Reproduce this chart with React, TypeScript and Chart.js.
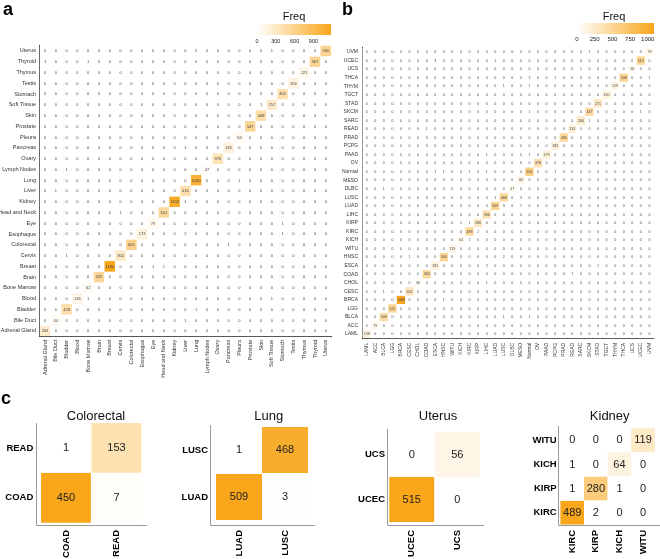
import React, { useEffect, useRef } from "react";
import { Chart, registerables } from "chart.js";
Chart.register(...registerables);

const FONT = '"Liberation Sans", Arial, Helvetica, sans-serif';
const ORANGE = [249, 166, 26];

// ---------- panel a : tissue of origin ----------
const tissueLabels = ["Adrenal Gland", "Bile Duct", "Bladder", "Blood", "Bone Marrow", "Brain", "Breast", "Cervix", "Colorectal", "Esophagus", "Eye", "Head and Neck", "Kidney", "Liver", "Lung", "Lymph Nodes", "Ovary", "Pancreas", "Pleura", "Prostate", "Skin", "Soft Tissue", "Stomach", "Testis", "Thymus", "Thyroid", "Uterus"];
const tissueCorrect = [264, 44, 428, 136, 62, 525, 1180, 302, 605, 173, 79, 501, 1102, 416, 1040, 47, 376, 182, 84, 547, 448, 257, 405, 156, 121, 567, 560];
// [true row, predicted column, count]
const tissueErrors = [[1, 13, 1], [2, 14, 1], [3, 4, 1], [3, 21, 1], [6, 10, 1], [6, 11, 1], [7, 2, 1], [8, 17, 1], [9, 13, 2], [9, 22, 1], [10, 22, 1], [11, 7, 1], [12, 13, 1], [13, 1, 1], [14, 11, 2], [14, 18, 1], [15, 2, 1], [17, 13, 1], [20, 26, 1], [21, 20, 1], [25, 0, 1], [25, 4, 1], [26, 14, 2], [26, 21, 1]];
const tissueLegendTicks = [0, 300, 600, 900];

// ---------- panel b : cancer type ----------
const cancerLabels = ["LAML", "ACC", "BLCA", "LGG", "BRCA", "CESC", "CHOL", "COAD", "ESCA", "HNSC", "WITU", "KICH", "KIRC", "KIRP", "LIHC", "LUAD", "LUSC", "DLBC", "MESO", "Normal", "OV", "PAAD", "PCPG", "PRAD", "READ", "SARC", "SKCM", "STAD", "TGCT", "THYM", "THCA", "UCS", "UCEC", "UVM"];
const cancerCorrect = [138, 79, 408, 525, 1088, 302, 36, 450, 181, 500, 119, 64, 489, 280, 366, 509, 468, 47, 84, 601, 376, 179, 182, 496, 153, 260, 447, 271, 150, 119, 508, 56, 515, 79];
const cancerErrors = [[2, 16, 1], [2, 19, 1], [4, 9, 1], [5, 2, 1], [6, 14, 1], [7, 24, 7], [8, 14, 2], [8, 27, 1], [9, 5, 1], [9, 16, 2], [11, 12, 1], [12, 13, 2], [13, 11, 1], [13, 12, 1], [15, 16, 3], [15, 18, 1], [16, 15, 1], [16, 18, 3], [17, 2, 1], [19, 8, 1], [19, 9, 1], [19, 12, 1], [19, 14, 1], [19, 22, 1], [21, 14, 1], [21, 19, 1], [24, 7, 1], [25, 26, 1], [26, 19, 1], [26, 32, 1], [29, 16, 1], [29, 19, 1], [30, 19, 2], [30, 22, 1], [30, 33, 1], [31, 25, 1], [32, 8, 3], [32, 15, 1], [33, 26, 1]];
const cancerLegendTicks = [0, 250, 500, 750, 1000];

// ---------- panel c : sub-type matrices (rows = true, cols = predicted) ----------
const colorectalLabels = ["COAD", "READ"];
const colorectalCounts = [[450, 7], [1, 153]];
const lungLabels = ["LUAD", "LUSC"];
const lungCounts = [[509, 3], [1, 468]];
const uterusLabels = ["UCEC", "UCS"];
const uterusCounts = [[515, 0], [0, 56]];
const kidneyLabels = ["KIRC", "KIRP", "KICH", "WITU"];
const kidneyCounts = [[489, 2, 0, 0], [1, 280, 1, 0], [1, 0, 64, 0], [0, 0, 0, 119]];

function buildMatrix(correct: number[], errors: number[][]) {
  const m = correct.map(() => correct.map(() => 0));
  correct.forEach((v, i) => (m[i][i] = v));
  errors.forEach(([r, c, v]) => (m[r][c] = v));
  return m;
}

function shade(v: number, max: number) {
  const t = Math.max(0, Math.min(1, v / max));
  const r = Math.round(255 + (ORANGE[0] - 255) * t);
  const g = Math.round(255 + (ORANGE[1] - 255) * t);
  const b = Math.round(255 + (ORANGE[2] - 255) * t);
  return `rgb(${r},${g},${b})`;
}

function panelLetter(ctx: CanvasRenderingContext2D, s: string, x: number, y: number) {
  ctx.font = `bold 18px ${FONT}`;
  ctx.fillStyle = "#000";
  ctx.textAlign = "left";
  ctx.textBaseline = "alphabetic";
  ctx.fillText(s, x, y);
}

function colorbar(ctx: CanvasRenderingContext2D, x0: number, x1: number, y0: number, y1: number, max: number, ticks: number[], titleX: number, labelY: number, labelSize: number) {
  ctx.font = `11px ${FONT}`;
  ctx.fillStyle = "#111";
  ctx.textAlign = "center";
  ctx.textBaseline = "alphabetic";
  ctx.fillText("Freq", titleX, 20);
  const g = ctx.createLinearGradient(x0, 0, x1, 0);
  g.addColorStop(0, "#ffffff");
  g.addColorStop(1, `rgb(${ORANGE.join(",")})`);
  ctx.fillStyle = g;
  ctx.fillRect(x0, y0, x1 - x0, y1 - y0);
  ctx.font = `${labelSize}px ${FONT}`;
  ctx.fillStyle = "#222";
  ctx.textBaseline = "middle";
  ticks.forEach((t) => ctx.fillText(String(t), x0 + (t / max) * (x1 - x0), labelY));
}

function smallDecor(ctx: CanvasRenderingContext2D, title: string, tx: number, ax: number, atop: number, xend: number) {
  ctx.font = `13px ${FONT}`;
  ctx.fillStyle = "#111";
  ctx.textAlign = "center";
  ctx.textBaseline = "alphabetic";
  ctx.fillText(title, tx, 420);
  ctx.strokeStyle = "#9a9a9a";
  ctx.lineWidth = 1;
  ctx.beginPath();
  ctx.moveTo(ax + 0.5, atop);
  ctx.lineTo(ax + 0.5, 525.5);
  ctx.lineTo(xend, 525.5);
  ctx.stroke();
}

type Panel = {
  left: number; top: number; w: number; h: number;
  area: number[];
  xLabels: string[]; yLabels: string[]; matrix: number[][];
  tickFont: number; tickBold: boolean; tickColor: string;
  numFont: number; numColor: string;
  xPad: number; yPad: number; border: boolean; fill: number;
  decorate: (ctx: CanvasRenderingContext2D) => void;
};

const tissueMatrix = buildMatrix(tissueCorrect, tissueErrors);
const cancerMatrix = buildMatrix(cancerCorrect, cancerErrors);
const tissueMax = Math.max(...tissueCorrect);
const cancerMax = Math.max(...cancerCorrect);

const panels: Panel[] = [
  {
    left: 0, top: 0, w: 336, h: 390, area: [39.6, 45.6, 331.7, 336.3],
    xLabels: tissueLabels, yLabels: tissueLabels, matrix: tissueMatrix,
    tickFont: 5.5, tickBold: false, tickColor: "#333", numFont: 4, numColor: "#444",
    xPad: 3.5, yPad: 3.6, border: true, fill: 0.98,
    decorate: (ctx) => {
      panelLetter(ctx, "a", 3, 15);
      colorbar(ctx, 257, 331, 24, 35, tissueMax, tissueLegendTicks, 294, 41.7, 5.5);
    },
  },
  {
    left: 336, top: 0, w: 324, h: 390, area: [362.4, 47.7, 655.9, 338.3],
    xLabels: cancerLabels, yLabels: cancerLabels, matrix: cancerMatrix,
    tickFont: 5, tickBold: false, tickColor: "#333", numFont: 3.6, numColor: "#444",
    xPad: 4.5, yPad: 4.4, border: true, fill: 0.98,
    decorate: (ctx) => {
      panelLetter(ctx, "b", 342, 15);
      colorbar(ctx, 577, 654, 23, 34, cancerMax, cancerLegendTicks, 614, 39.5, 6);
    },
  },
  {
    left: 0, top: 390, w: 165, h: 169, area: [40.7, 423, 141.7, 522.7],
    xLabels: colorectalLabels, yLabels: colorectalLabels, matrix: colorectalCounts,
    tickFont: 9.5, tickBold: true, tickColor: "#000", numFont: 11, numColor: "#222",
    xPad: 7.3, yPad: 7.4, border: false, fill: 1,
    decorate: (ctx) => {
      panelLetter(ctx, "c", 1, 404);
      smallDecor(ctx, "Colorectal", 96, 36, 423, 147);
    },
  },
  {
    left: 165, top: 390, w: 165, h: 169, area: [216, 426.5, 308, 520.5],
    xLabels: lungLabels, yLabels: lungLabels, matrix: lungCounts,
    tickFont: 9.5, tickBold: true, tickColor: "#000", numFont: 11, numColor: "#222",
    xPad: 9.5, yPad: 8, border: false, fill: 1,
    decorate: (ctx) => smallDecor(ctx, "Lung", 268.8, 210, 425, 315),
  },
  {
    left: 330, top: 390, w: 165, h: 169, area: [389, 432, 480, 522],
    xLabels: uterusLabels, yLabels: uterusLabels, matrix: uterusCounts,
    tickFont: 9.5, tickBold: true, tickColor: "#000", numFont: 11, numColor: "#222",
    xPad: 8, yPad: 4, border: false, fill: 1,
    decorate: (ctx) => smallDecor(ctx, "Uterus", 438, 387, 429, 484),
  },
  {
    left: 495, top: 390, w: 165, h: 169, area: [560.4, 428, 657.2, 524.8],
    xLabels: kidneyLabels, yLabels: kidneyLabels, matrix: kidneyCounts,
    tickFont: 9.5, tickBold: true, tickColor: "#000", numFont: 11, numColor: "#222",
    xPad: 5.2, yPad: 3.7, border: false, fill: 1,
    decorate: (ctx) => smallDecor(ctx, "Kidney", 609.7, 558, 426, 660),
  },
];

function Heat({ p }: { p: Panel }) {
  const ref = useRef<HTMLCanvasElement>(null);
  useEffect(() => {
    if (!ref.current) return;
    const [gl, gt, gr, gb] = p.area;
    const l = gl - p.left, t = gt - p.top, r = gr - p.left, b = gb - p.top;
    const max = Math.max(...p.matrix.map((row) => Math.max(...row)));
    const cells: any[] = [];
    p.matrix.forEach((row, ri) => row.forEach((v, ci) => cells.push({ x: p.xLabels[ci], y: p.yLabels[ri], v })));
    const nx = p.xLabels.length, ny = p.yLabels.length;
    const radius = (c: any) => {
      const a = c.chart.chartArea;
      if (!a) return 0;
      return (Math.min((a.right - a.left) / nx, (a.bottom - a.top) / ny) * p.fill) / Math.SQRT2;
    };
    const tickFont = { family: FONT, size: p.tickFont, weight: p.tickBold ? "bold" : "normal" };
    const chart = new Chart(ref.current, {
      type: "scatter",
      data: {
        datasets: [{
          data: cells,
          pointStyle: "rect",
          borderWidth: 0,
          pointBorderWidth: 0,
          backgroundColor: (c: any) => shade(c.raw ? c.raw.v : 0, max),
          pointBackgroundColor: (c: any) => shade(c.raw ? c.raw.v : 0, max),
          pointRadius: radius,
          pointHoverRadius: radius,
          clip: false,
        } as any],
      },
      options: {
        animation: false,
        responsive: false,
        events: [],
        layout: { padding: { left: 0, top: t, right: p.w - r, bottom: 0 } },
        plugins: { legend: { display: false }, tooltip: { enabled: false } },
        scales: {
          x: {
            type: "category", labels: p.xLabels, offset: true,
            grid: { display: false, drawTicks: false },
            border: { display: p.border, color: "#333", width: 1 },
            ticks: { autoSkip: false, maxRotation: 90, minRotation: 90, padding: p.xPad, font: tickFont as any, color: p.tickColor },
            afterFit: (s: any) => { s.height = p.h - b; },
          },
          y: {
            type: "category", labels: p.yLabels, offset: true, reverse: true,
            grid: { display: false, drawTicks: false },
            border: { display: p.border, color: "#333", width: 1 },
            ticks: { autoSkip: false, padding: p.yPad, font: tickFont as any, color: p.tickColor },
            afterFit: (s: any) => { s.width = l; },
          },
        },
      } as any,
      plugins: [{
        id: "cellText",
        afterDatasetsDraw(ch: any) {
          const ctx = ch.ctx;
          const meta = ch.getDatasetMeta(0);
          ctx.save();
          ctx.font = `${p.numFont}px ${FONT}`;
          ctx.fillStyle = p.numColor;
          ctx.textAlign = "center";
          ctx.textBaseline = "middle";
          meta.data.forEach((el: any, i: number) => {
            ctx.fillText(String(cells[i].v), el.x, el.y + 0.3);
          });
          ctx.restore();
        },
        afterDraw(ch: any) {
          const ctx = ch.ctx;
          ctx.save();
          ctx.translate(-p.left, -p.top);
          p.decorate(ctx);
          ctx.restore();
        },
      }],
    });
    return () => chart.destroy();
  }, []);
  return (
    <div style={{ position: "absolute", left: p.left, top: p.top, width: p.w, height: p.h }}>
      <canvas ref={ref} width={p.w} height={p.h} style={{ display: "block", width: p.w, height: p.h }} />
    </div>
  );
}

export default function App() {
  return (
    <div style={{ position: "fixed", left: 0, top: 0, width: 660, height: 559, background: "#fff", overflow: "hidden" }}>
      {panels.map((p, i) => (
        <Heat key={i} p={p} />
      ))}
    </div>
  );
}
